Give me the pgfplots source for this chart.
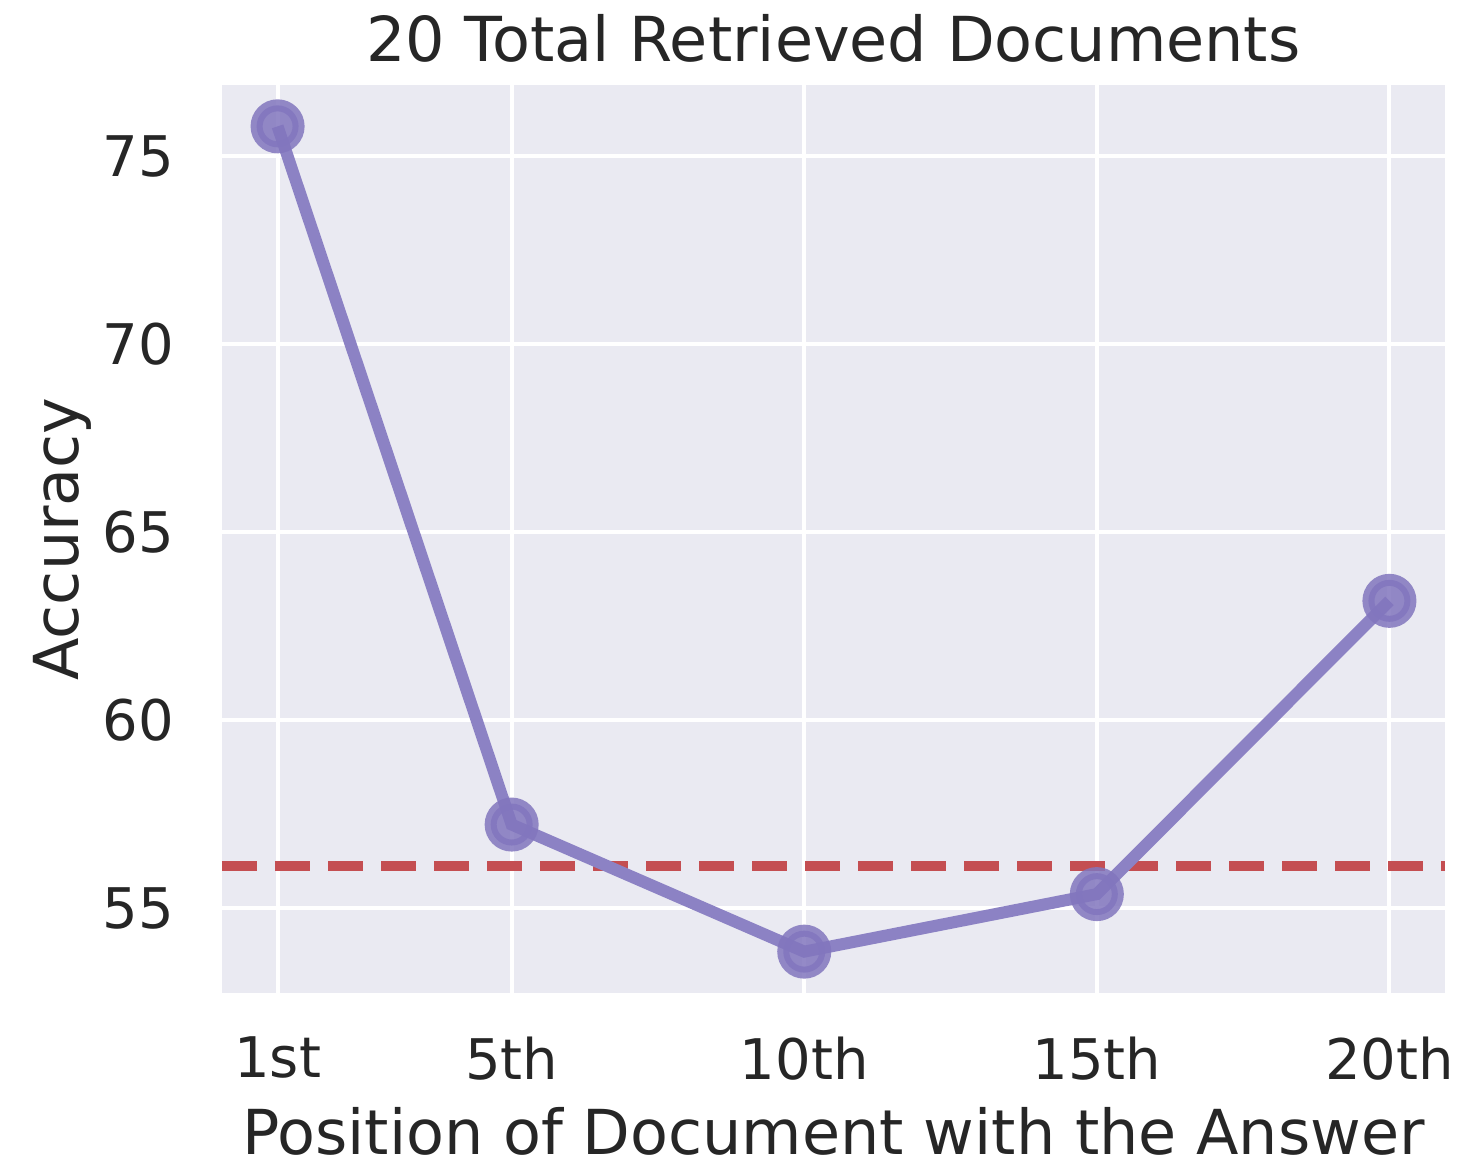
\documentclass[border=0pt]{standalone}
\usepackage{fontspec}
\setmainfont{DejaVu Sans}
\usepackage{pgfplots}
\pgfplotsset{compat=1.18}
\definecolor{bgc}{RGB}{234,234,242}
\definecolor{linec}{RGB}{140,130,196}
\definecolor{markc}{RGB}{130,118,190}
\definecolor{redc}{RGB}{196,78,82}
\definecolor{txt}{RGB}{38,38,38}
\begin{document}
\begin{tikzpicture}
\useasboundingbox (-44.4pt,-33.8pt) rectangle (251.6pt,198.6pt);
\begin{axis}[
  scale only axis,
  width=244.6pt, height=181.6pt,
  at={(0pt,0pt)}, anchor=south west,
  xmin=0.05, xmax=20.95,
  ymin=52.74, ymax=76.89,
  axis background/.style={fill=bgc},
  axis line style={draw=none},
  tick style={draw=none},
  grid=major,
  major grid style={white, line width=0.8pt},
  xtick={1,5,10,15,20},
  xticklabels={1st,5th,10th,15th,20th},
  ytick={55,60,65,70,75},
  /pgf/number format/assume math mode=true,
  every tick label/.append style={inner sep=0pt, font=\fontsize{11.2}{13}\selectfont, text=txt},
  xticklabel style={anchor=north, yshift=-8.5pt},
  yticklabel style={anchor=east, xshift=-9.4pt},
  title={20 Total Retrieved Documents},
  every axis title shift=0pt,
  title style={at={(axis description cs:0.5,1)}, anchor=base, yshift=4.6pt, inner sep=0pt, font=\fontsize{12.4}{14}\selectfont, text=txt},
  xlabel={Position of Document with the Answer},
  xlabel style={at={(axis description cs:0.5,0)}, anchor=north, yshift=-22.6pt, inner sep=0pt, font=\fontsize{12.4}{14}\selectfont, text=txt},
  ylabel={Accuracy},
  ylabel style={at={(axis description cs:-0.1177,0.5)}, anchor=base, rotate=0, inner sep=0pt, font=\fontsize{12.4}{14}\selectfont, text=txt},
  clip=false,
]
\addplot[redc, line width=2pt, dash pattern=on 7pt off 3.6pt, forget plot] coordinates {(0.05,56.11) (20.95,56.11)};
\addplot[linec, line width=2.4pt, mark=*, mark size=4.2pt, mark options={fill=markc, draw=markc, fill opacity=0.85, draw opacity=0.85}]
  coordinates {(1,75.79) (5,57.22) (10,53.84) (15,55.37) (20,63.17)};
\end{axis}
\end{tikzpicture}
\end{document}
